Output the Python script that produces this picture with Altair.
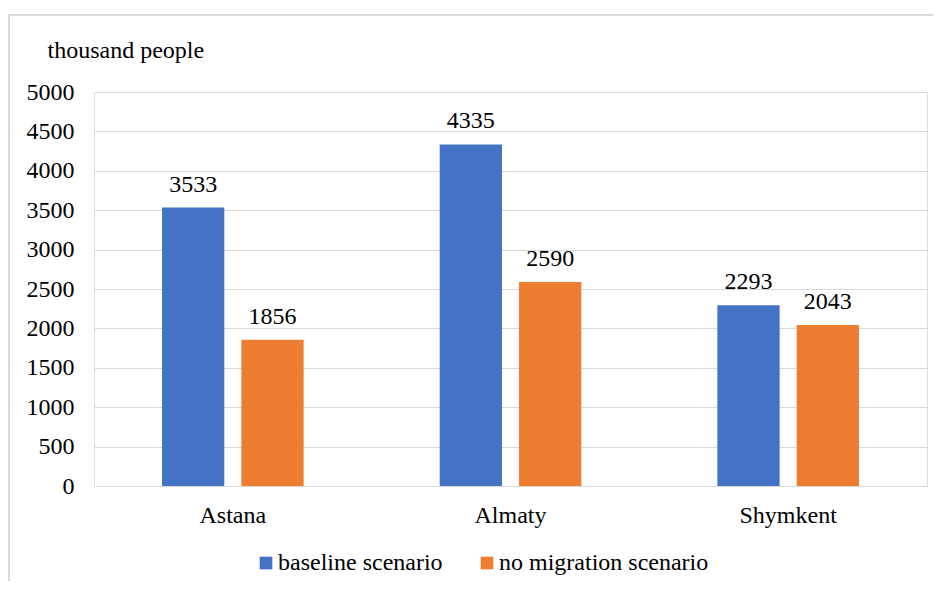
import altair as alt
import pandas as pd

cities = ["Astana", "Almaty", "Shymkent"]
scenarios = ["baseline scenario", "no migration scenario"]
baseline = [3533, 4335, 2293]
no_migration = [1856, 2590, 2043]
y_ticks = [0, 500, 1000, 1500, 2000, 2500, 3000, 3500, 4000, 4500, 5000]
colors = ["#4472C4", "#ED7D31"]

rows = []
for c, b, n in zip(cities, baseline, no_migration):
    rows.append({"city": c, "scenario": scenarios[0], "value": b})
    rows.append({"city": c, "scenario": scenarios[1], "value": n})
df = pd.DataFrame(rows)

FONT = "Liberation Serif"

x = alt.X("city:N", sort=cities, title=None,
          scale=alt.Scale(paddingInner=0.49, paddingOuter=0.245),
          axis=alt.Axis(labelAngle=0, labelFontSize=24, labelFont=FONT, labelColor="#000000",
                        ticks=False, domainColor="#d9d9d9", domainWidth=1,
                        labelBaseline="alphabetic", labelPadding=36))
xo = alt.XOffset("scenario:N", sort=scenarios,
                 scale=alt.Scale(paddingInner=0.215, paddingOuter=0))
y = alt.Y("value:Q", scale=alt.Scale(domain=[0, 5000], nice=False),
          axis=alt.Axis(values=y_ticks, format="d", labelOverlap=False,
                        title="thousand people", titleAngle=0,
                        titleAlign="left", titleBaseline="alphabetic",
                        titleX=-47, titleY=-35, titleFont=FONT, titleFontSize=24,
                        titleFontWeight="normal", titleColor="#000000",
                        labelFont=FONT, labelFontSize=24, labelColor="#000000",
                        ticks=False, domain=False, labelPadding=20,
                        gridColor="#d9d9d9", gridWidth=1))
color = alt.Color("scenario:N", sort=scenarios,
                  scale=alt.Scale(domain=scenarios, range=colors),
                  legend=alt.Legend(title=None, orient="none", legendX=160, legendY=459,
                                    direction="horizontal", symbolType="square",
                                    symbolSize=160, symbolStrokeWidth=0,
                                    labelFont=FONT, labelFontSize=24, labelColor="#000000",
                                    labelLimit=0, labelOffset=0, columnPadding=32, padding=0))

base = alt.Chart(df).encode(x=x, xOffset=xo, y=y)
bars = base.mark_bar().encode(color=color)
labels = base.mark_text(font=FONT, fontSize=24, color="#000000", dy=-16,
                        baseline="alphabetic").encode(text="value:Q")

one = pd.DataFrame({"a": [0]})
top_line = alt.Chart(one).mark_rule(stroke="#d9d9d9", strokeWidth=2, clip=False).encode(
    x=alt.value(-86), x2=alt.value(1000), y=alt.value(-77))
left_line = alt.Chart(one).mark_rule(stroke="#d9d9d9", strokeWidth=2, clip=False).encode(
    x=alt.value(-85), y=alt.value(-78), y2=alt.value(600))

chart = alt.layer(top_line, left_line, bars, labels).properties(
    width=833, height=394,
    autosize=alt.AutoSizeParams(type="none"),
    padding={"left": 86, "top": 84, "right": 6, "bottom": 95},
).configure_view(stroke=None).configure(background="white", font=FONT)

chart.save("out.html", embed_options={"renderer": "svg", "actions": False})
